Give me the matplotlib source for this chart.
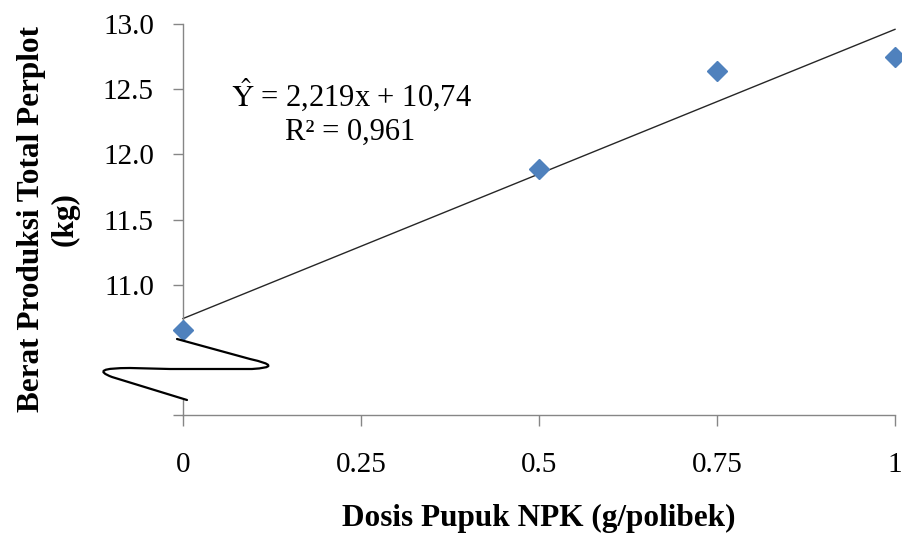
import matplotlib
matplotlib.use("Agg")
import matplotlib.pyplot as plt
import numpy as np
from matplotlib.path import Path
from matplotlib.patches import PathPatch, Rectangle
from matplotlib.ticker import FuncFormatter, FixedLocator

# Data
dosis = [0, 0.5, 0.75, 1]
berat = [10.65, 11.89, 12.64, 12.75]
slope = 2.219
intercept = 10.74
r2 = "0,961"
x_ticks = [0, 0.25, 0.5, 0.75, 1]
x_tick_labels = ["0", "0.25", "0.5", "0.75", "1"]
y_ticks = [10.0, 10.5, 11.0, 11.5, 12.0, 12.5, 13.0]

plt.rcParams['font.family'] = ['Liberation Serif', 'DejaVu Serif']
plt.rcParams['mathtext.fontset'] = 'stix'

fig = plt.figure(figsize=(9.02, 5.35), dpi=100)
ax = fig.add_axes([183/902, 1 - 415/535, 712/902, 391/535])

spine_c = '#868686'
ax.set_xlim(0, 1)
ax.set_ylim(10.0, 13.0)

xl = np.array([0, 1])
ax.plot(xl, intercept + slope * xl, color='#262626', lw=1.0, zorder=2, clip_on=False)
ax.plot(dosis, berat, linestyle='none', marker='D', markersize=10,
        color='#4F81BD', zorder=3, clip_on=False)

for s in ['top', 'right']:
    ax.spines[s].set_visible(False)
for s in ['left', 'bottom']:
    ax.spines[s].set_color(spine_c)
    ax.spines[s].set_linewidth(1.0)

ax.xaxis.set_major_locator(FixedLocator(x_ticks))
ax.set_xticklabels(x_tick_labels)
ax.yaxis.set_major_locator(FixedLocator(y_ticks))
ax.yaxis.set_major_formatter(FuncFormatter(lambda v, p: f"{v:.1f}" if v >= 10.99 else ""))
ax.tick_params(axis='y', direction='out', length=7, width=1, color=spine_c,
               labelsize=21, pad=14)
ax.tick_params(axis='x', direction='out', length=8, width=1, color=spine_c,
               labelsize=21, pad=19)

ax.set_xlabel("Dosis Pupuk NPK (g/polibek)", fontsize=22.5, fontweight='bold', labelpad=18)
ax.set_ylabel("Berat Produksi Total Perplot\n(kg)", fontsize=22.5, fontweight='bold',
              labelpad=17, linespacing=1.2)

# equation
ax.text(0.237, 0.818, r"$\hat{\mathrm{Y}}$ = 2,219x + 10,74", transform=ax.transAxes,
        fontsize=22, ha='center', va='center')
ax.text(0.235, 0.723, "R² = 0,961", transform=ax.transAxes,
        fontsize=22, ha='center', va='center')

# axis break symbol (decoration, in pixel-derived axes fractions)
def px(xp, yp):
    return ((xp - 183) / 712, (415 - yp) / 391)

x0, y0 = px(170, 400)
x1, y1 = px(196, 340)
ax.add_patch(Rectangle((x0, y0), x1 - x0, y1 - y0,
                       transform=ax.transAxes, facecolor='white', edgecolor='none',
                       zorder=5, clip_on=False))
verts = [px(177, 339), px(250, 359), px(286, 367), px(252, 369), px(225, 369),
         px(170, 369), px(130, 368), px(88, 368), px(112, 377), px(187, 400)]
codes = [Path.MOVETO, Path.LINETO, Path.CURVE3, Path.CURVE3, Path.LINETO,
         Path.LINETO, Path.LINETO, Path.CURVE3, Path.CURVE3, Path.LINETO]
ax.add_patch(PathPatch(Path(verts, codes), transform=ax.transAxes, facecolor='none',
                       edgecolor='black', lw=1.6, zorder=6, clip_on=False,
                       capstyle='round', joinstyle='round'))

fig.savefig("out.png", dpi=100)
